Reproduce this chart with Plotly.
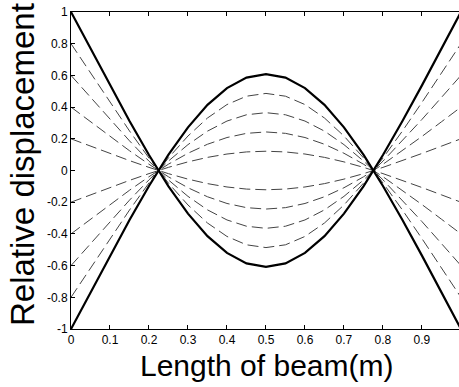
import plotly.graph_objects as go

# Position along the beam (m)
x_pos = [0.0, 0.05, 0.10, 0.15, 0.20, 0.25, 0.30, 0.35, 0.40, 0.45, 0.50,
         0.55, 0.60, 0.65, 0.70, 0.75, 0.80, 0.85, 0.90, 0.95, 1.0]
# Mode shape (normalised to 1 at the ends)
mode_shape = [1.000, 0.768, 0.537, 0.312, 0.098, -0.100, -0.272, -0.414, -0.520, -0.586, -0.608,
              -0.586, -0.520, -0.414, -0.272, -0.100, 0.098, 0.312, 0.537, 0.768, 1.000]
# End amplitudes of the curves
solid_amps = [1.0, -1.0]
dashed_amps = [0.8, 0.6, 0.4, 0.2, -0.2, -0.4, -0.6, -0.8]

x_ticks = [0, 0.1, 0.2, 0.3, 0.4, 0.5, 0.6, 0.7, 0.8, 0.9]
x_ticktext = ["0", "0.1", "0.2", "0.3", "0.4", "0.5", "0.6", "0.7", "0.8", "0.9"]
y_ticks = [-1, -0.8, -0.6, -0.4, -0.2, 0, 0.2, 0.4, 0.6, 0.8, 1]
y_ticktext = ["-1", "-0.8", "-0.6", "-0.4", "-0.2", "0", "0.2", "0.4", "0.6", "0.8", "1"]

fig = go.Figure()
for a in dashed_amps:
    fig.add_trace(go.Scatter(x=x_pos, y=[a * v for v in mode_shape], mode="lines",
                             line=dict(color="#444444", width=1, dash="11px,5px"),
                             showlegend=False, hoverinfo="skip"))
for a in solid_amps:
    fig.add_trace(go.Scatter(x=x_pos, y=[a * v for v in mode_shape], mode="lines",
                             line=dict(color="black", width=2.2),
                             showlegend=False, hoverinfo="skip"))

W, H = 459, 387
ml, mr, mt, mb = 71, 0, 12, 58
pw, ph = W - ml - mr, H - mt - mb

fig.update_layout(
    width=W, height=H,
    margin=dict(l=ml, r=mr, t=mt, b=mb, pad=0),
    paper_bgcolor="white", plot_bgcolor="white",
    font=dict(family="Liberation Sans, Arial, sans-serif", color="black", size=12),
    xaxis=dict(range=[0, 0.995], tickvals=x_ticks, ticktext=x_ticktext,
               ticks="inside", ticklen=4, tickcolor="black", showgrid=False,
               zeroline=False, showline=True, linecolor="black", linewidth=1,
               mirror="ticks", tickfont=dict(size=12), ticklabelstandoff=0),
    yaxis=dict(range=[-1, 1], tickvals=y_ticks, ticktext=y_ticktext,
               ticks="inside", ticklen=4, tickcolor="black", showgrid=False,
               zeroline=False, showline=True, linecolor="black", linewidth=1,
               tickfont=dict(size=12), ticklabelstandoff=0),
    annotations=[
        dict(text="Relative displacement", xref="paper", yref="paper",
             x=(22 - ml) / pw, y=(mt + ph - 165) / ph, textangle=-90,
             xanchor="center", yanchor="middle", showarrow=False,
             font=dict(size=33, family="Liberation Sans, Arial, sans-serif")),
        dict(text="Length of beam(m)", xref="paper", yref="paper",
             x=(266 - ml) / pw, y=(mt + ph - 365) / ph,
             xanchor="center", yanchor="middle", showarrow=False,
             font=dict(size=30, family="Liberation Sans, Arial, sans-serif")),
    ],
)

fig.write_html("out.html", config={"displayModeBar": False},
               post_script="document.body.style.margin='0';document.body.style.overflow='hidden';")
